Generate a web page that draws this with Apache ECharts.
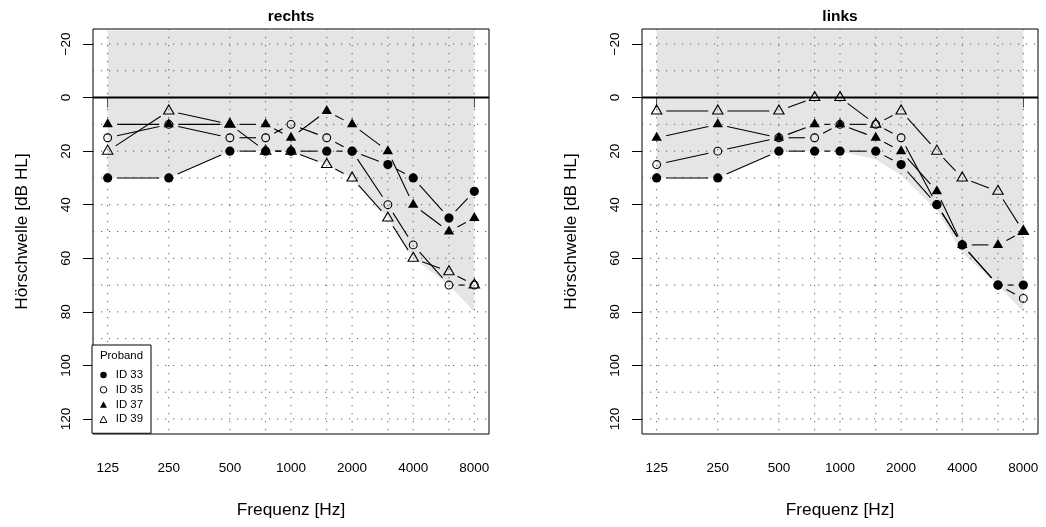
<!DOCTYPE html>
<html>
<head>
<meta charset="utf-8">
<script src="https://cdn.jsdelivr.net/npm/echarts@6/dist/echarts.min.js"></script>
<style>
  html, body { margin: 0; padding: 0; background: #fff; }
  #chart { width: 1046px; height: 527px; }
</style>
</head>
<body>
<div id="chart"></div>
<script>
// Audiometric test frequencies (Hz)
const freqs = [125, 250, 500, 750, 1000, 1500, 2000, 3000, 4000, 6000, 8000];

// Labelled frequency ticks
const tickFreqs = [125, 250, 500, 1000, 2000, 4000, 8000];
const tickFreqLabels = ['125', '250', '500', '1000', '2000', '4000', '8000'];

// Hearing level ticks and dotted reference levels (dB HL)
const levelTicks = [-20, 0, 20, 40, 60, 80, 100, 120];
const levelTickLabels = ['\u221220', '0', '20', '40', '60', '80', '100', '120'];
const gridLevels = [-20, -10, 0, 10, 20, 30, 40, 50, 60, 70, 80, 90, 100, 110, 120];

// Shaded reference band: upper edge and lower edge per frequency
const shadeTop = -25;
const shadeRechts = [30, 30, 20, 20, 20, 25, 30, 45, 60, 70, 80];
const shadeLinks  = [30, 30, 20, 20, 20, 23, 29, 42, 58, 70, 80];

// Probands
const probands = ['ID 33', 'ID 35', 'ID 37', 'ID 39'];

// Right ear thresholds (dB HL)
const rechts33 = [30, 30, 20, 20, 20, 20, 20, 25, 30, 45, 35];
const rechts35 = [15, 10, 15, 15, 10, 15, 20, 40, 55, 70, 70];
const rechts37 = [10, 10, 10, 10, 15, 5, 10, 20, 40, 50, 45];
const rechts39 = [20, 5, 10, 20, 20, 25, 30, 45, 60, 65, 70];

// Left ear thresholds (dB HL)
const links33 = [30, 30, 20, 20, 20, 20, 25, 40, 55, 70, 70];
const links35 = [25, 20, 15, 15, 10, 10, 15, 40, 55, 70, 75];
const links37 = [15, 10, 15, 10, 10, 15, 20, 35, 55, 55, 50];
const links39 = [5, 5, 5, 0, 0, 10, 5, 20, 30, 35, 50];

// ---------------------------------------------------------------------------
const FONT = "'Liberation Sans', Arial, Helvetica, sans-serif";
const oct = f => Math.log2(f);          // frequency axis is logarithmic (octaves)
const X_PAD = 0.04 * (oct(8000) - oct(125));
const Y_MIN = -25.6, Y_MAX = 125.6;
const GAP = 9.6;                        // space left free around each point
const DOTS = [1.2, 6.8];                // dotted reference line pattern

const markerStyles = [
  { symbol: 'circle',   size: 9.2,       offset: [0, 0],    fill: '#000',          border: 0 },
  { symbol: 'circle',   size: 7.8,       offset: [0, 0],    fill: 'rgba(0,0,0,0)', border: 1.1 },
  { symbol: 'triangle', size: [10.4, 9], offset: [0, -1.5], fill: '#000',          border: 0 },
  { symbol: 'triangle', size: [10.4, 9], offset: [0, -1.5], fill: 'rgba(0,0,0,0)', border: 1.1 }
];

const panels = [
  { title: 'rechts', left: 93,  shade: shadeRechts, values: [rechts33, rechts35, rechts37, rechts39] },
  { title: 'links',  left: 642, shade: shadeLinks,  values: [links33, links35, links37, links39] }
];
const PANEL_W = 396, PANEL_TOP = 29, PANEL_H = 405;

function tickLabel(v) {
  for (let k = 0; k < tickFreqs.length; k++) {
    if (Math.abs(oct(tickFreqs[k]) - v) < 1e-6) return tickFreqLabels[k];
  }
  return '';
}
function levelLabel(v) {
  const k = levelTicks.indexOf(Math.round(v));
  return k >= 0 ? levelTickLabels[k] : '';
}

function renderSegment(params, api) {
  const a = api.coord([api.value(0), api.value(1)]);
  const b = api.coord([api.value(2), api.value(3)]);
  const dx = b[0] - a[0], dy = b[1] - a[1];
  const len = Math.hypot(dx, dy);
  if (len <= 2 * GAP) return null;
  const ux = dx / len, uy = dy / len;
  return {
    type: 'line',
    shape: { x1: a[0] + ux * GAP, y1: a[1] + uy * GAP, x2: b[0] - ux * GAP, y2: b[1] - uy * GAP },
    style: { stroke: '#000', lineWidth: 1.1 }
  };
}

const grids = [], xAxes = [], yAxes = [], series = [], titles = [];

panels.forEach((p, i) => {
  grids.push({
    left: p.left, top: PANEL_TOP, width: PANEL_W, height: PANEL_H,
    show: true, borderColor: '#000', borderWidth: 1, backgroundColor: 'rgba(0,0,0,0)'
  });
  xAxes.push({
    type: 'value', gridIndex: i,
    min: oct(125) - X_PAD, max: oct(8000) + X_PAD,
    axisLine: { show: false }, splitLine: { show: false },
    axisTick: { show: true, customValues: tickFreqs.map(oct), length: 10, lineStyle: { color: '#000', width: 1 } },
    axisLabel: { customValues: tickFreqs.map(oct), formatter: tickLabel, margin: 27,
                 fontSize: 13.5, color: '#000', fontFamily: FONT },
    name: 'Frequenz [Hz]', nameLocation: 'middle', nameGap: 68,
    nameTextStyle: { fontSize: 17.3, color: '#000', fontFamily: FONT }
  });
  yAxes.push({
    type: 'value', gridIndex: i, inverse: true, min: Y_MIN, max: Y_MAX,
    axisLine: { show: false }, splitLine: { show: false },
    axisTick: { show: true, customValues: levelTicks, length: 10, lineStyle: { color: '#000', width: 1 } },
    axisLabel: { customValues: levelTicks, formatter: levelLabel, rotate: 90, margin: 19.5,
                 fontSize: 13.5, color: '#000', fontFamily: FONT },
    name: 'Hörschwelle [dB HL]', nameLocation: 'middle', nameRotate: 90, nameGap: 62,
    nameTextStyle: { fontSize: 17.3, color: '#000', fontFamily: FONT }
  });
  titles.push({
    text: p.title, left: p.left + PANEL_W / 2, top: 9, textAlign: 'center', padding: 0,
    textStyle: { fontSize: 15.5, fontWeight: 'bold', color: '#000', fontFamily: FONT }
  });

  // shaded reference band
  const shade = p.shade;
  series.push({
    type: 'custom', xAxisIndex: i, yAxisIndex: i, z: 1, silent: true,
    data: freqs.map((f, k) => [oct(f), shade[k]]),
    renderItem: (params, api) => {
      if (params.dataIndex !== 0) return null;
      const pts = freqs.map((f, k) => api.coord([oct(f), shade[k]]));
      pts.push(api.coord([oct(freqs[freqs.length - 1]), shadeTop]));
      pts.push(api.coord([oct(freqs[0]), shadeTop]));
      return { type: 'polygon', shape: { points: pts }, style: { fill: '#e5e5e5' } };
    }
  });
  // dotted vertical reference lines
  series.push({
    type: 'custom', xAxisIndex: i, yAxisIndex: i, z: 2, silent: true,
    data: freqs.map(f => [oct(f), 0]),
    renderItem: (params, api) => {
      const cs = params.coordSys;
      const x = api.coord([api.value(0), 0])[0];
      return { type: 'line', shape: { x1: x, y1: cs.y, x2: x, y2: cs.y + cs.height },
               style: { stroke: '#5a5a5a', lineWidth: 1, lineDash: DOTS } };
    }
  });
  // dotted horizontal reference lines
  series.push({
    type: 'custom', xAxisIndex: i, yAxisIndex: i, z: 2, silent: true,
    data: gridLevels.map(l => [oct(1000), l]),
    renderItem: (params, api) => {
      const cs = params.coordSys;
      const y = api.coord([oct(1000), api.value(1)])[1];
      return { type: 'line', shape: { x1: cs.x, y1: y, x2: cs.x + cs.width, y2: y },
               style: { stroke: '#5a5a5a', lineWidth: 1, lineDash: DOTS } };
    }
  });
  // 0 dB HL line
  series.push({
    type: 'custom', xAxisIndex: i, yAxisIndex: i, z: 3, silent: true,
    data: [[oct(1000), 0]],
    renderItem: (params, api) => {
      const cs = params.coordSys;
      const y = api.coord([api.value(0), api.value(1)])[1];
      return { type: 'line', shape: { x1: cs.x, y1: y, x2: cs.x + cs.width, y2: y },
               style: { stroke: '#000', lineWidth: 2 } };
    }
  });

  p.values.forEach((vals, s) => {
    const segs = [];
    for (let k = 0; k < freqs.length - 1; k++) {
      segs.push([oct(freqs[k]), vals[k], oct(freqs[k + 1]), vals[k + 1]]);
    }
    series.push({
      type: 'custom', name: probands[s] + ' Verlauf', xAxisIndex: i, yAxisIndex: i,
      z: 4 + s * 2, silent: true, data: segs, renderItem: renderSegment
    });
    const st = markerStyles[s];
    series.push({
      type: 'scatter', name: probands[s], xAxisIndex: i, yAxisIndex: i,
      z: 5 + s * 2, silent: true,
      symbol: st.symbol, symbolSize: st.size, symbolOffset: st.offset,
      itemStyle: { color: st.fill, borderColor: '#000', borderWidth: st.border, opacity: 1 },
      emphasis: { disabled: true },
      data: freqs.map((f, k) => [oct(f), vals[k]])
    });
  });
});

const chart = echarts.init(document.getElementById('chart'), null, { renderer: 'canvas' });
chart.setOption({
  animation: false,
  backgroundColor: '#fff',
  textStyle: { fontFamily: FONT },
  title: titles,
  grid: grids,
  xAxis: xAxes,
  yAxis: yAxes,
  legend: {
    data: probands.map((n, k) => ({
      name: n, icon: markerStyles[k].symbol,
      itemStyle: { borderWidth: markerStyles[k].border ? 1 : 0 }
    })),
    orient: 'vertical', left: 92, top: 345,
    padding: [24, 8, 8, 7.5],
    itemWidth: 7, itemHeight: 6.5, itemGap: 2.75,
    selectedMode: false,
    backgroundColor: '#fff', borderColor: '#000', borderWidth: 1, borderRadius: 0,
    textStyle: { fontSize: 11.4, lineHeight: 12, color: '#000', fontFamily: FONT, padding: [0, 0, 0, 3.8] },
    z: 20
  },
  graphic: [{
    type: 'text', z: 100, silent: true,
    style: { x: 121.5, y: 355.5, text: 'Proband', align: 'center', verticalAlign: 'middle',
             font: '11.4px ' + FONT, fill: '#000' }
  }],
  series: series
});
</script>
</body>
</html>
